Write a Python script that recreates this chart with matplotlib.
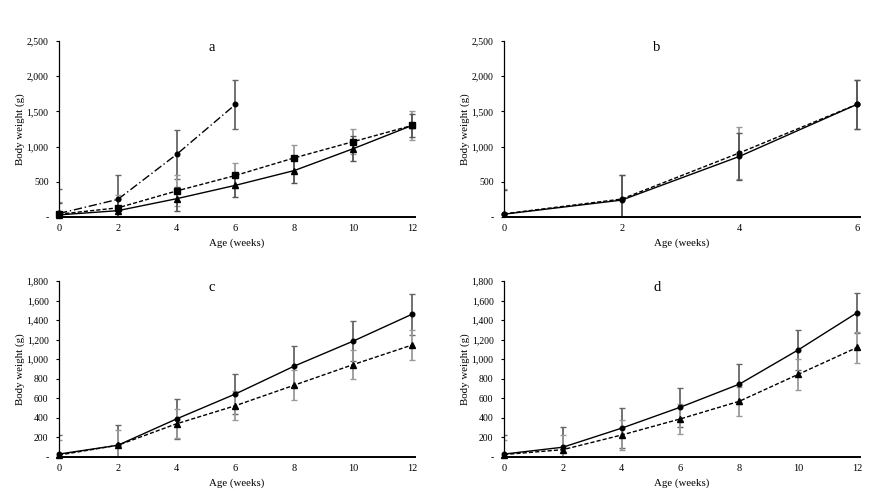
import matplotlib
matplotlib.use("Agg")
import matplotlib.pyplot as plt
from matplotlib.ticker import FuncFormatter

plt.rcParams['font.family'] = ['Liberation Serif', 'DejaVu Serif']

# ---------------- data ----------------
weeks12 = [0, 2, 4, 6, 8, 10, 12]
weeks6 = [0, 2, 4, 6]

# panel a
a_circ = [50, 250, 890, 1600]
a_circ_err = [350, 350, 350, 350]
a_sq = [40, 130, 370, 590, 840, 1070, 1300]
a_sq_err = [180, 180, 220, 180, 180, 180, 200]
a_tri = [30, 90, 260, 450, 660, 970, 1300]
a_tri_err = [170, 170, 170, 170, 170, 180, 170]

# panel b
b_solid = [40, 240, 860, 1600]
b_solid_err = [350, 360, 340, 350]
b_dash = [45, 255, 910, 1600]
b_dash_err = [350, 345, 370, 350]

# panel c
c_solid = [30, 120, 390, 645, 930, 1185, 1460]
c_solid_err = [200, 210, 205, 205, 210, 205, 210]
c_dash = [20, 120, 340, 525, 735, 945, 1145]
c_dash_err = [150, 160, 150, 150, 150, 150, 150]

# panel d
d_solid = [30, 100, 295, 510, 745, 1095, 1475]
d_solid_err = [200, 210, 205, 200, 205, 205, 205]
d_dash = [25, 75, 225, 390, 570, 845, 1120]
d_dash_err = [150, 155, 150, 150, 150, 155, 155]

W, H = 872, 491
fig = plt.figure(figsize=(W / 100, H / 100), dpi=100)


def make_ax(left, top, right, bottom):
    return fig.add_axes([left / W, 1 - bottom / H, (right - left) / W, (bottom - top) / H])


def fmt(v, pos):
    if abs(v) < 1e-9:
        return '-'
    return f'{int(v):,}'


def style(ax, ymax, ystep, xmax, xstep, letter):
    ax.set_ylim(0, ymax)
    ax.set_yticks(range(0, ymax + 1, ystep))
    ax.yaxis.set_major_formatter(FuncFormatter(fmt))
    ax.set_xticks(range(0, xmax + 1, xstep))
    ax.set_xlim(0, xmax * 1.0085)
    for s in ['top', 'right']:
        ax.spines[s].set_visible(False)
    ax.spines['left'].set_linewidth(0.9)
    ax.spines['bottom'].set_linewidth(1.4)
    ax.tick_params(axis='y', direction='out', length=2.5, width=0.8, labelsize=7, pad=5)
    ax.tick_params(axis='x', direction='out', length=0, labelsize=7.5, pad=5)
    ax.set_xlabel('Age (weeks)', fontsize=7.8, labelpad=4)
    ax.set_ylabel('Body weight (g)', fontsize=7.8, labelpad=1)
    ax.text(0.43, 1.0, letter, transform=ax.transAxes, fontsize=10.5,
            ha='center', va='top')
    ax.patch.set_visible(False)


def series(ax, x, y, err, ls, marker, ecolor, ms=4):
    ax.errorbar(x, y, yerr=err, fmt='none', ecolor=ecolor, elinewidth=1.3,
                capsize=2.5, capthick=1.0, clip_on=True, zorder=2)
    ax.plot(x, y, ls=ls, color='black', lw=1.0, marker=marker, ms=ms,
            mfc='black', mec='black', zorder=3, clip_on=False)


# panel a
ax = make_ax(59, 41, 415, 217)
series(ax, weeks6, a_circ, a_circ_err, (0, (6, 2, 1, 2)), 'o', '#666666', 3.3)
series(ax, weeks12, a_sq, a_sq_err, (0, (3, 1.5)), 's', '#9a9a9a', 3.8)
series(ax, weeks12, a_tri, a_tri_err, '-', '^', '#555555', 3.8)
style(ax, 2500, 500, 12, 2, 'a')

# panel b
ax = make_ax(504, 41, 860, 217)
series(ax, weeks6, b_dash, b_dash_err, (0, (3, 1.5)), 'o', '#9a9a9a', 3.3)
series(ax, weeks6, b_solid, b_solid_err, '-', 'o', '#555555', 3.3)
style(ax, 2500, 500, 6, 2, 'b')

# panel c
ax = make_ax(59, 281, 415, 457)
series(ax, weeks12, c_solid, c_solid_err, '-', 'o', '#666666', 3.3)
series(ax, weeks12, c_dash, c_dash_err, (0, (3, 1.5)), '^', '#9a9a9a', 3.8)
style(ax, 1800, 200, 12, 2, 'c')

# panel d
ax = make_ax(504, 281, 860, 457)
series(ax, weeks12, d_solid, d_solid_err, '-', 'o', '#666666', 3.3)
series(ax, weeks12, d_dash, d_dash_err, (0, (3, 1.5)), '^', '#9a9a9a', 3.8)
style(ax, 1800, 200, 12, 2, 'd')

fig.savefig('out.png', dpi=100, facecolor='white')
